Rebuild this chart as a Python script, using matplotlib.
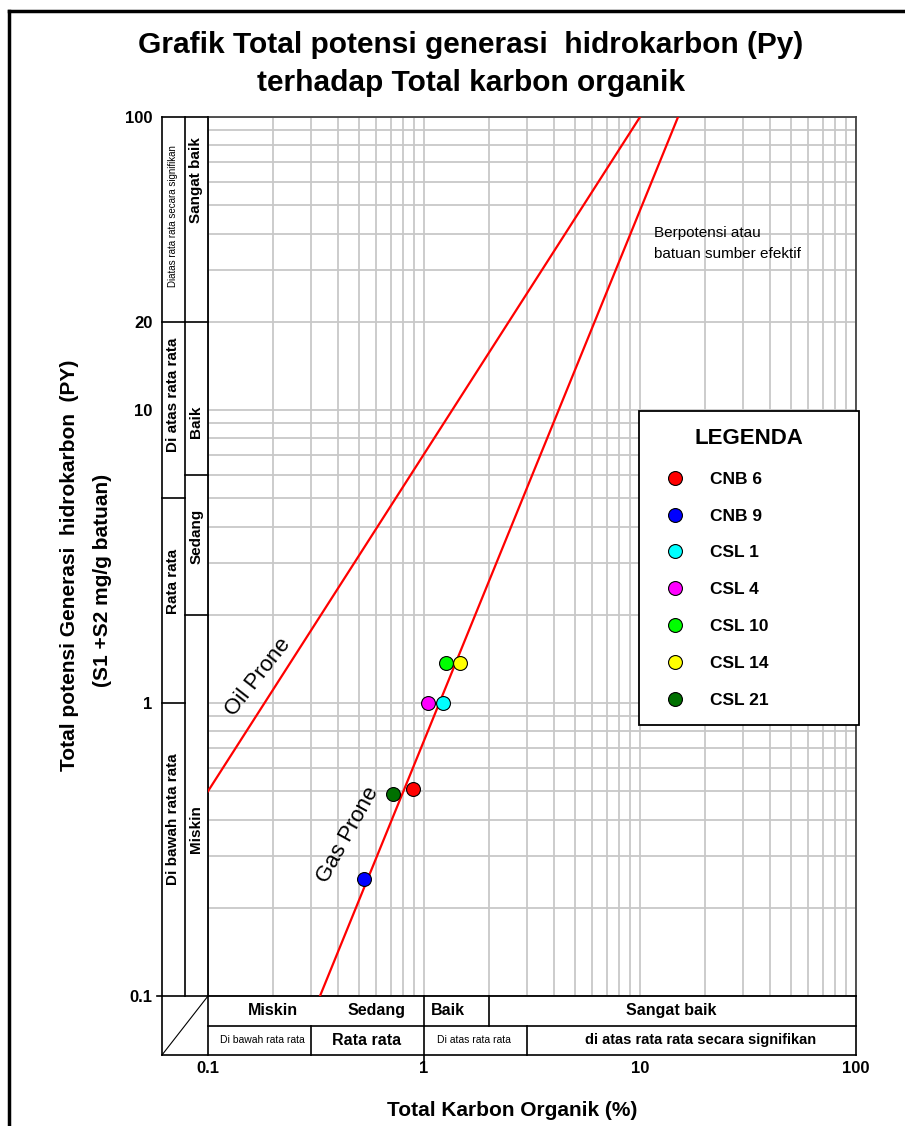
import matplotlib.pyplot as plt
import matplotlib.transforms as mtransforms
from matplotlib.lines import Line2D
from matplotlib.ticker import NullFormatter

# Sample data (TOC %, Py mg/g)
samples = ['CNB 6', 'CNB 9', 'CSL 1', 'CSL 4', 'CSL 10', 'CSL 14', 'CSL 21']
toc = [0.89, 0.53, 1.22, 1.04, 1.26, 1.47, 0.72]
py = [0.51, 0.25, 1.0, 1.0, 1.37, 1.37, 0.49]
colors = ['#ff0000', '#0000ff', '#00ffff', '#ff00ff', '#00ff00', '#ffff00', '#007000']

# Boundary lines
oil_x = [0.1, 10]
oil_y = [0.5, 100]
gas_x = [0.33, 15]
gas_y = [0.1, 100]

# Py classes (left columns)
py_inner_bounds = [2, 6, 20]
py_inner_labels = ['Miskin', 'Sedang', 'Baik', 'Sangat baik']
py_inner_pos = [0.37, 3.7, 9.1, 61]
py_outer_bounds = [1, 5, 20]
py_outer_labels = ['Di bawah rata rata', 'Rata rata', 'Di atas rata rata',
                   'Diatas rata rata secara signifikan']
py_outer_pos = [0.4, 2.6, 11.3, 46]

# TOC classes (bottom rows)
toc_row1_bounds = [1, 2]
toc_row1_labels = ['Miskin', 'Sedang', 'Baik', 'Sangat baik']
toc_row1_pos = [0.2, 0.6, 1.29, 14]
toc_row2_bounds = [0.3, 1, 3]
toc_row2_labels = ['Di bawah rata rata', 'Rata rata', 'Di atas rata rata',
                   'di atas rata rata secara signifikan']
toc_row2_pos = [0.178, 0.545, 1.70, 19]

plt.rcParams['font.family'] = ['Liberation Sans', 'DejaVu Sans']

fig = plt.figure(figsize=(9.05, 11.26), dpi=100)
ax = fig.add_axes([208 / 905, 1 - 996 / 1126, 648 / 905, 879 / 1126])
ax.set_xscale('log')
ax.set_yscale('log')
ax.set_xlim(0.1, 100)
ax.set_ylim(0.1, 100)

ax.grid(True, which='both', color='#c8c8c8', lw=1.3, zorder=0)
ax.set_xticks([0.1, 1, 10, 100])
ax.set_xticklabels(['0.1', '1', '10', '100'], fontweight='bold', fontsize=12)
ax.set_yticks([0.1, 1, 10, 20, 100])
ax.set_yticklabels(['0.1', '1', '10', '20', '100'], fontweight='bold', fontsize=12)
ax.xaxis.set_minor_formatter(NullFormatter())
ax.yaxis.set_minor_formatter(NullFormatter())
ax.tick_params(axis='both', which='both', length=0)
ax.tick_params(axis='y', pad=40)
ax.tick_params(axis='x', pad=47)
for s in ['left', 'bottom']:
    ax.spines[s].set_color('black')
    ax.spines[s].set_linewidth(1.3)
for s in ['top', 'right']:
    ax.spines[s].set_color('#444444')
    ax.spines[s].set_linewidth(1.3)

# Oil / gas prone lines
ax.plot(oil_x, oil_y, color='red', lw=1.6, zorder=3)
ax.plot(gas_x, gas_y, color='red', lw=1.6, zorder=3)
ax.text(0.17, 1.23, 'Oil Prone', rotation=52, fontsize=16, ha='center', va='center')
ax.text(0.445, 0.355, 'Gas Prone', rotation=61, fontsize=16, ha='center', va='center')
ax.text(11.6, 37, 'Berpotensi atau\nbatuan sumber efektif', fontsize=11,
        ha='left', va='center', linespacing=1.6)

# Samples
for name, x, y, c in zip(samples, toc, py, colors):
    ax.plot(x, y, 'o', color=c, markeredgecolor='black', markeredgewidth=0.8,
            markersize=10, label=name, zorder=5)

leg = ax.legend(loc='upper left', bbox_to_anchor=(639 / 905, 1 - 730 / 1126, 220 / 905, 319 / 1126),
                bbox_transform=fig.transFigure, mode='expand', frameon=True, fancybox=False,
                edgecolor='black', framealpha=1, title='LEGENDA', borderpad=1.0,
                labelspacing=1.25, handletextpad=0.9, handlelength=2.2, borderaxespad=0,
                prop={'weight': 'bold', 'size': 12.5},
                title_fontproperties={'weight': 'bold', 'size': 16})
leg.get_frame().set_linewidth(1.3)
leg._legend_box.sep = 16

# Left class columns
tl = mtransforms.blended_transform_factory(ax.transAxes, ax.transData)
xo, xi = -0.071, -0.0355
lk = dict(color='black', lw=1.2, clip_on=False, zorder=4)
ax.plot([xo, xo], [0.1, 100], transform=tl, **lk)
ax.plot([xi, xi], [0.1, 100], transform=tl, **lk)
ax.plot([xo, 0], [100, 100], transform=tl, **lk)
for b in py_outer_bounds:
    ax.plot([xo, xi], [b, b], transform=tl, **lk)
for b in py_inner_bounds:
    ax.plot([xi, 0], [b, b], transform=tl, **lk)
for lab, p in zip(py_outer_labels, py_outer_pos):
    small = lab.startswith('Diatas rata rata secara')
    ax.text((xo + xi) / 2, p, lab, transform=tl, rotation=90, ha='center', va='center',
            fontsize=7 if small else 11, fontweight='normal' if small else 'bold')
for lab, p in zip(py_inner_labels, py_inner_pos):
    ax.text(xi / 2, p, lab, transform=tl, rotation=90, ha='center', va='center',
            fontsize=11, fontweight='bold')

# Bottom class rows
tb = mtransforms.blended_transform_factory(ax.transData, ax.transAxes)
r1, r2 = -0.0341, -0.0671
ax.plot([0.1, 100], [r1, r1], transform=tb, **lk)
ax.plot([xo, 1], [r2, r2], transform=ax.transAxes, **lk)
ax.plot([1, 1], [0, r2], transform=ax.transAxes, **lk)
ax.plot([xo, xo], [0, r2], transform=ax.transAxes, **lk)
ax.plot([-0.078, 0], [0, 0], transform=ax.transAxes, **lk)
ax.plot([0, 0], [0, r2], transform=ax.transAxes, **lk)
ax.plot([0, xo], [0, r2], transform=ax.transAxes, color='black', lw=0.8, clip_on=False)
for b in toc_row1_bounds:
    ax.plot([b, b], [0, r1], transform=tb, **lk)
for b in toc_row2_bounds:
    ax.plot([b, b], [r1, r2 - (0.008 if b == 1 else 0)], transform=tb, **lk)
for lab, p in zip(toc_row1_labels, toc_row1_pos):
    ax.text(p, r1 / 2, lab, transform=tb, ha='center', va='center', fontsize=11.5,
            fontweight='bold')
for lab, p in zip(toc_row2_labels, toc_row2_pos):
    small = lab.startswith('Di ')
    ax.text(p, (r1 + r2) / 2, lab, transform=tb, ha='center', va='center',
            fontsize=7.5 if small else (10.5 if lab.startswith('di') else 11.5),
            fontweight='normal' if small else 'bold')

# Titles and axis labels
fig.text(0.52, 1 - 64 / 1126, 'Grafik Total potensi generasi  hidrokarbon (Py)\nterhadap Total karbon organik',
         ha='center', va='center', fontsize=21.5, fontweight='bold', linespacing=1.45)
fig.text(512 / 905, 1 - 1110 / 1126, 'Total Karbon Organik (%)', ha='center', va='center',
         fontsize=15, fontweight='bold')
fig.text(70 / 905, 1 - 565 / 1126, 'Total potensi Generasi  hidrokarbon  (PY)', rotation=90,
         ha='center', va='center', fontsize=15, fontweight='bold')
fig.text(102 / 905, 1 - 580 / 1126, '(S1 +S2 mg/g batuan)', rotation=90,
         ha='center', va='center', fontsize=15, fontweight='bold')

# Figure border (left and top)
fig.add_artist(Line2D([9 / 905, 9 / 905], [0, 1 - 11 / 1126], transform=fig.transFigure,
                      color='black', lw=2.5))
fig.add_artist(Line2D([9 / 905, 1], [1 - 11 / 1126, 1 - 11 / 1126], transform=fig.transFigure,
                      color='black', lw=2.5))

fig.savefig('out.png', dpi=100)
